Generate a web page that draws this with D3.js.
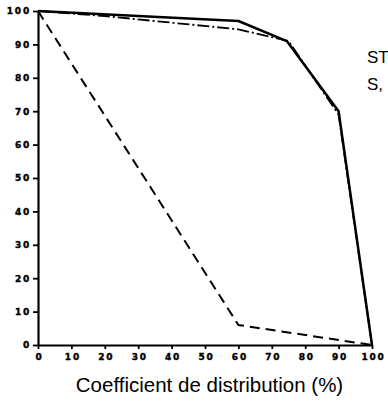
<!DOCTYPE html>
<html><head><meta charset="utf-8">
<script src="https://cdn.jsdelivr.net/npm/d3@7"></script>
<style>html,body{margin:0;padding:0;background:#fff;overflow:hidden}</style>
</head><body>
<script>
const xTicks = [0,10,20,30,40,50,60,70,80,90,100];
const yTicks = [0,10,20,30,40,50,60,70,80,90,100];
const solidX = [0,60,74.5,90,100];
const solidY = [100,97,91,70,0];
const dashDotX = [0,20,60,75,90,100];
const dashDotY = [100,98.5,94.5,91,69,0];
const dashedX = [0,60,100];
const dashedY = [100,6,0];
const xTitle = "Coefficient de distribution (%)";
const sideLabels = ["ST","S,"];

const W=388,H=404;
const svg=d3.select("body").append("svg").attr("width",W).attr("height",H);
const x=d3.scaleLinear().domain([0,100]).range([38,372]);
const y=d3.scaleLinear().domain([0,100]).range([345,11]);

const tickFont = "'DejaVu Sans', Arial, sans-serif";
const yAxis = svg.append("g").attr("transform","translate(38,0)")
  .call(d3.axisLeft(y).tickValues(yTicks).tickSize(5).tickPadding(4).tickSizeOuter(0));
const xAxis = svg.append("g").attr("transform","translate(0,345)")
  .call(d3.axisBottom(x).tickValues(xTicks).tickSize(4).tickPadding(5).tickSizeOuter(0));
[yAxis,xAxis].forEach(g=>{
  g.select(".domain").attr("stroke","#000").attr("stroke-width",2.2);
  g.selectAll(".tick line").attr("stroke","#000").attr("stroke-width",1.8);
  g.selectAll(".tick text").attr("fill","#000").attr("stroke","#000").attr("stroke-width",0.4)
   .style("font-family",tickFont)
   .style("font-weight","bold").style("font-size","9px").style("letter-spacing","1.8px");
});
yAxis.selectAll(".tick text").attr("dx","2px");
xAxis.selectAll(".tick text").attr("dx","1px");

function series(xs,ys){return xs.map((v,i)=>[v,ys[i]]);}
const line=d3.line().x(d=>x(d[0])).y(d=>y(d[1]));
svg.append("path").datum(series(dashedX,dashedY)).attr("d",line)
  .attr("fill","none").attr("stroke","#000").attr("stroke-width",2).attr("stroke-dasharray","10,6");
svg.append("path").datum(series(dashDotX,dashDotY)).attr("d",line)
  .attr("fill","none").attr("stroke","#000").attr("stroke-width",1.8).attr("stroke-dasharray","12,3,2,3");
svg.append("path").datum(series(solidX,solidY)).attr("d",line)
  .attr("fill","none").attr("stroke","#000").attr("stroke-width",2.5).attr("stroke-linejoin","round");

svg.append("text").attr("x",(72+347)/2).attr("y",392).attr("text-anchor","middle")
  .style("font-family","'Liberation Sans', Arial, sans-serif").style("font-size","20.5px").attr("fill","#000").text(xTitle);

svg.selectAll(".side").data(sideLabels).join("text")
  .attr("x",367).attr("y",(d,i)=>63+i*27)
  .style("font-family","'Liberation Sans', Arial, sans-serif").style("font-size","17px").attr("fill","#000").text(d=>d);
</script>
</body></html>
